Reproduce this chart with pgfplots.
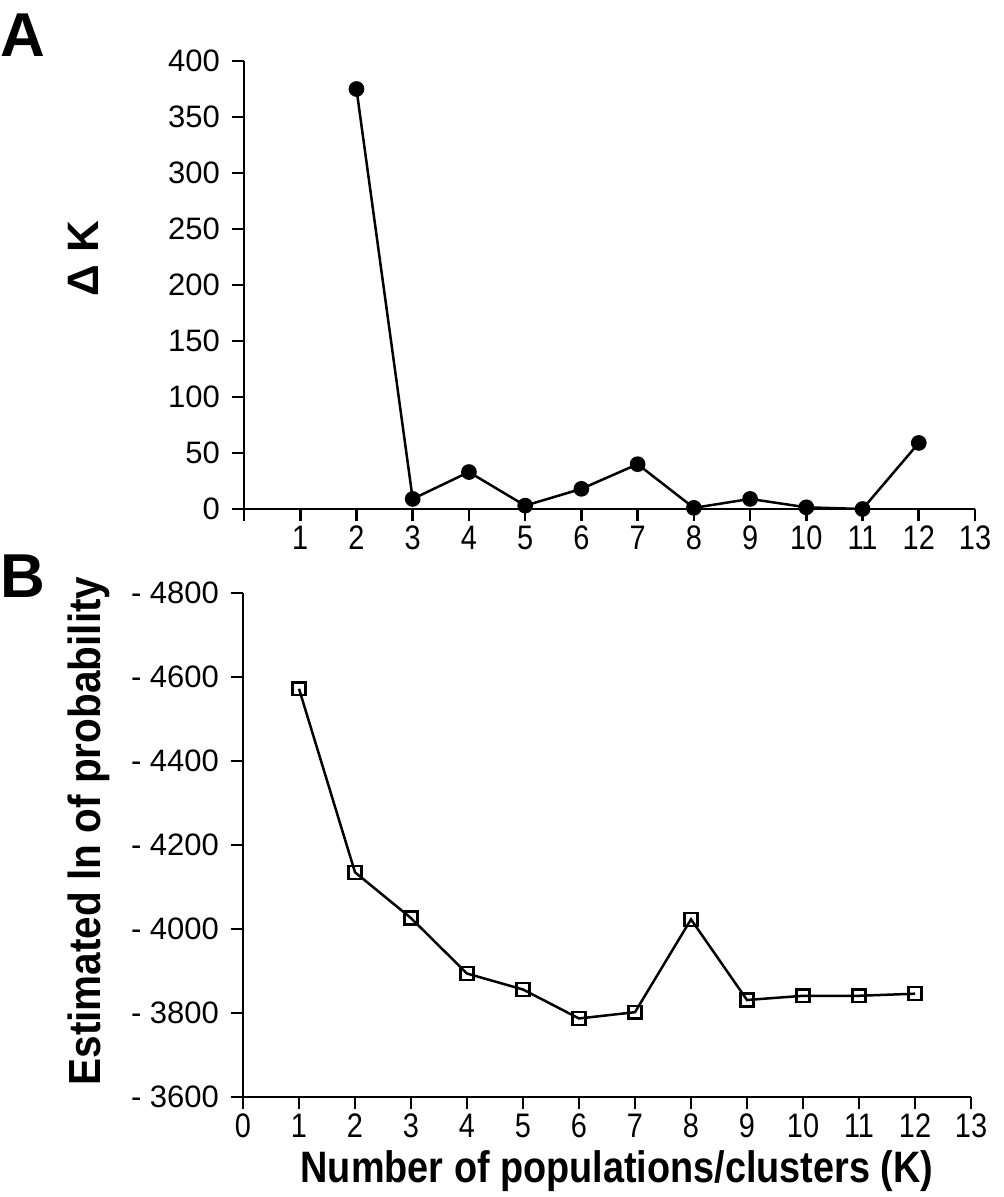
\documentclass[border=0pt]{standalone}
\usepackage{fontspec}
\setmainfont{Liberation Sans}
\newfontfamily\lblfont[FakeStretch=0.86]{Liberation Sans}
\newfontfamily\ylblfont[FakeStretch=0.9]{Liberation Sans}
\newfontfamily\tickfont[FakeStretch=0.85]{Liberation Sans}
\usepackage{pgfplots}
\pgfplotsset{compat=1.18}
\begin{document}
\begin{tikzpicture}
\useasboundingbox (0,0) rectangle (502pt,-598.5pt);
\pgfplotsset{panel/.style={
  scale only axis, clip=false,
  tick align=outside, major tick length=6pt,
  axis line style={-, line width=1.4pt},
  every tick/.style={line width=1.3pt, black},
  xticklabel style={font=\tickfont\fontsize{17}{17}\selectfont, yshift=1pt},
  yticklabel style={font=\fontsize{15.5}{15.5}\selectfont, xshift=-2.5pt},
}}
% Panel A
\begin{axis}[panel,
  at={(122pt,-254.5pt)}, anchor=south west,
  width=365.5pt, height=224pt,
  xmin=0, xmax=13, ymin=0, ymax=400,
  axis x line*=bottom, axis y line*=left,
  xtick={0,1,2,3,4,5,6,7,8,9,10,11,12,13},
  xticklabels={,1,2,3,4,5,6,7,8,9,10,11,12,13},
  ytick={0,50,100,150,200,250,300,350,400},
  yticklabels={0,50,100,150,200,250,300,350,400},
]
\addplot[black, line width=1.25pt, mark=*, mark size=3.3pt] coordinates {
(2,375) (3,9) (4,33) (5,3) (6,18) (7,40) (8,1) (9,9) (10,1.5) (11,0) (12,59)
};
\end{axis}
% Panel B
\begin{axis}[panel,
  at={(121.5pt,-548.5pt)}, anchor=south west,
  width=364pt, height=252pt,
  xmin=0, xmax=13, ymin=-4800, ymax=-3600, y dir=reverse,
  axis x line*=bottom, axis y line*=left,
  xtick={0,1,2,3,4,5,6,7,8,9,10,11,12,13},
  xticklabels={0,1,2,3,4,5,6,7,8,9,10,11,12,13},
  ytick={-4800,-4600,-4400,-4200,-4000,-3800,-3600},
  yticklabels={- 4800,- 4600,- 4400,- 4200,- 4000,- 3800,- 3600},
]
\addplot[black, line width=1.25pt, mark=square, mark size=3.2pt,
  mark options={fill=white, line width=1.2pt}] coordinates {
(1,-4572) (2,-4135) (3,-4026) (4,-3894) (5,-3856) (6,-3787) (7,-3802)
(8,-4023) (9,-3831) (10,-3841) (11,-3841) (12,-3846)
};
\end{axis}
% labels
\node[anchor=base west, inner sep=0pt, font=\bfseries\fontsize{31}{31}\selectfont] at (0pt,-28.5pt) {A};
\node[anchor=base west, inner sep=0pt, font=\bfseries\fontsize{31}{31}\selectfont] at (0pt,-298.5pt) {B};
\node[anchor=base, inner sep=0pt, rotate=90, font=\bfseries\fontsize{22}{22}\selectfont] at (49pt,-129.5pt) {Δ K};
\node[anchor=base, inner sep=0pt, rotate=90, font=\ylblfont\bfseries\fontsize{22.5}{22.5}\selectfont] at (50pt,-415.5pt) {Estimated ln of probability};
\node[anchor=base, inner sep=0pt, font=\lblfont\bfseries\fontsize{22}{22}\selectfont] at (308.5pt,-591pt) {Number of populations/clusters (K)};
\end{tikzpicture}
\end{document}
